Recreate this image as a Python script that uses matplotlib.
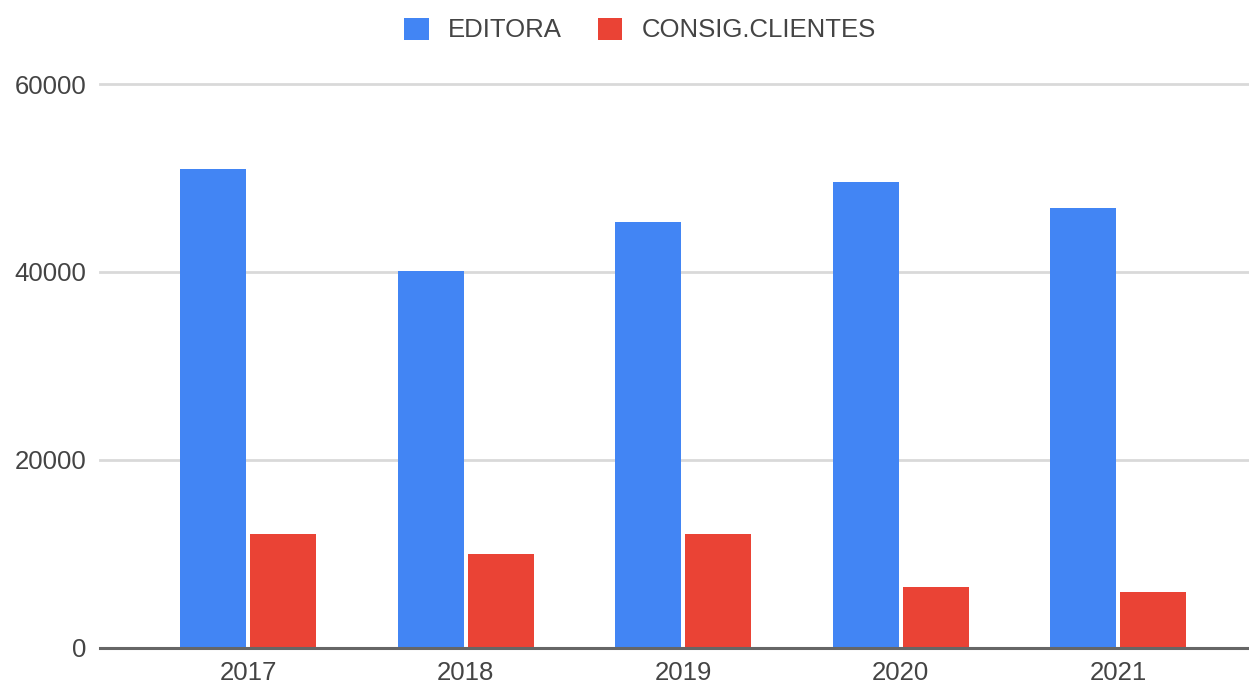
import matplotlib
matplotlib.use("Agg")
import matplotlib.pyplot as plt
from matplotlib.patches import Patch
import numpy as np

years = ["2017", "2018", "2019", "2020", "2021"]
editora = [51000, 40100, 45300, 49600, 46800]
consig = [12100, 10000, 12100, 6400, 5950]
series_names = ["EDITORA", "CONSIG.CLIENTES"]
colors = ["#4285F4", "#EA4335"]
yticks = [0, 20000, 40000, 60000]

plt.rcParams['font.family'] = ['Liberation Sans', 'DejaVu Sans']
FS = 18.5
TXT = "#444444"

W, H = 1249, 687
fig = plt.figure(figsize=(W / 100, H / 100), dpi=100)
left = 100 / W
bottom = (H - 647.6) / H
top = (H - 84) / H
ax = fig.add_axes([left, bottom, 1 - left, top - bottom])

x = np.arange(len(years))
bw = 0.303
off = 0.161
ax.bar(x - off, editora, width=bw, color=colors[0], zorder=3)
ax.bar(x + off, consig, width=bw, color=colors[1], zorder=3)

ax.set_xlim(-0.68, 4.6)
ax.set_ylim(0, 60000)
ax.set_yticks(yticks)
ax.set_yticklabels([str(v) for v in yticks])
ax.set_xticks(x)
ax.set_xticklabels(years)

for v in yticks[1:]:
    ax.axhline(v, color="#d9d9d9", lw=2, zorder=1, clip_on=False)
ax.axhline(0, color="#666666", lw=2.2, zorder=4, clip_on=False)

for s in ax.spines.values():
    s.set_visible(False)
ax.tick_params(axis='both', length=0, labelsize=FS, labelcolor=TXT)
ax.tick_params(axis='y', pad=10)
ax.tick_params(axis='x', pad=10)

handles = [Patch(facecolor=c, edgecolor='none') for c in colors]
fig.legend(handles, series_names, loc='center', bbox_to_anchor=(640 / W, 1 - 30 / H),
           ncol=2, frameon=False, fontsize=FS, labelcolor=TXT,
           handlelength=0.95, handleheight=0.95, handletextpad=0.75,
           columnspacing=1.4, borderpad=0, borderaxespad=0)

fig.savefig("out.png", dpi=100)
